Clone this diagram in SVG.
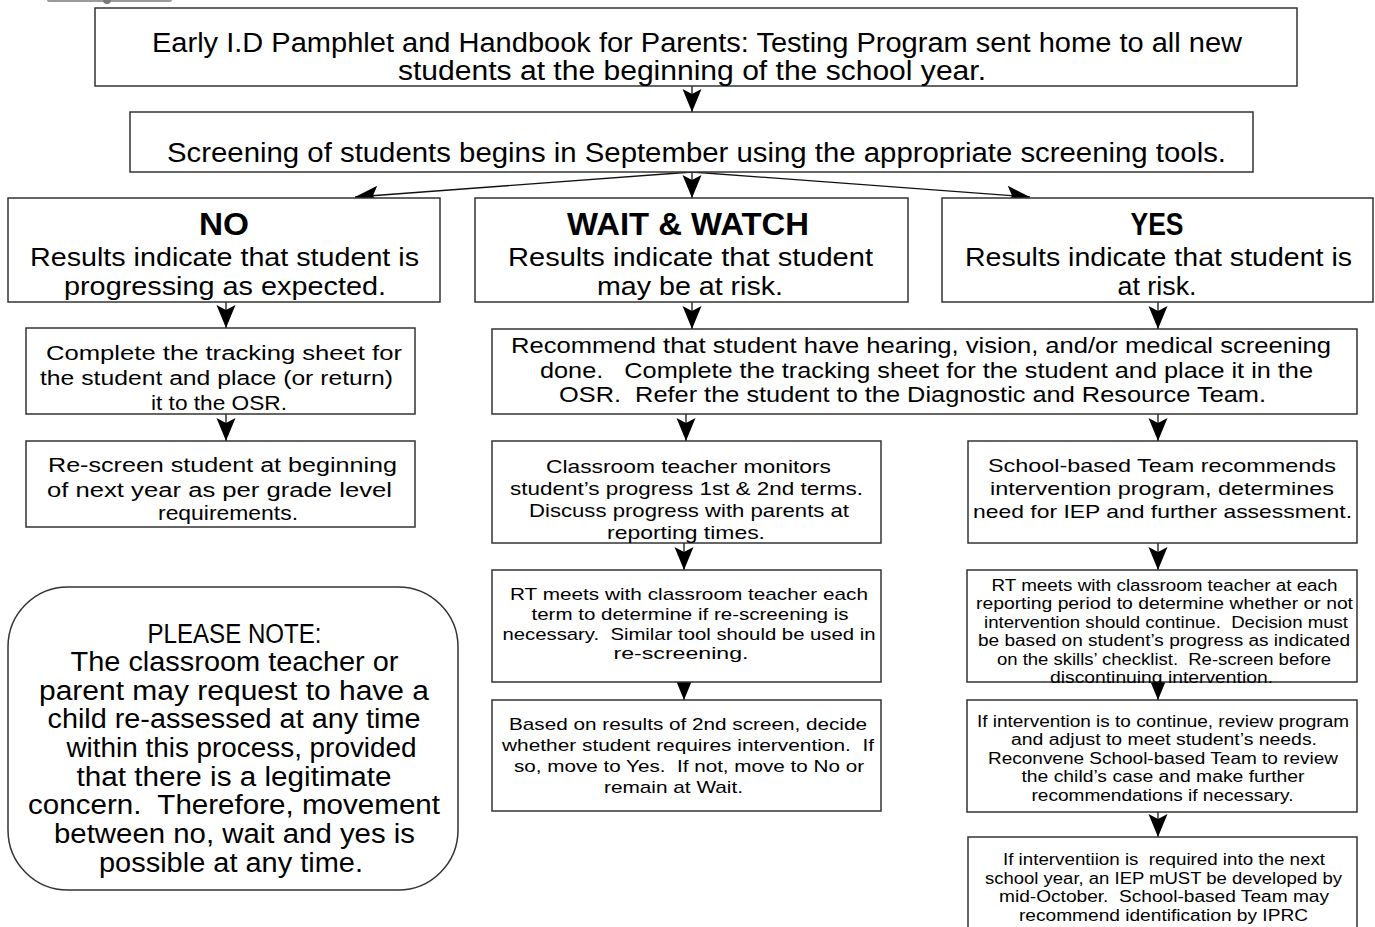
<svg xmlns="http://www.w3.org/2000/svg" width="1375" height="927" viewBox="0 0 1375 927">
<style>
.box{fill:#fff;stroke:#333;stroke-width:1.5}
.t{font-family:"Liberation Sans",Arial,sans-serif;text-anchor:middle;fill:#000;white-space:pre}
.h{font-weight:bold;font-size:32px}
.s27{font-size:27px}.s25{font-size:25px}.s22{font-size:22px}.s20{font-size:20px}.s19{font-size:19px}.s17{font-size:17px}.s16{font-size:16px}
.c{fill:none;stroke:#111;stroke-width:1.3}
</style>
<defs>
<marker id="ah" viewBox="-24 -11 25 22" refX="0" refY="0" markerWidth="25" markerHeight="22" markerUnits="userSpaceOnUse" orient="auto">
<path d="M0,0 L-23,-9.5 L-18,0 L-23,9.5 Z" fill="#000"/>
</marker>
</defs>
<rect width="1375" height="927" fill="#fff"/>
<g id="logo-fragment"><rect x="47" y="-3" width="125" height="5" rx="2" fill="#9a9a9a"/><circle cx="107" cy="0" r="4" fill="#777"/></g>

<g id="connectors">
<path class="c" d="M692,86 L692,112" marker-end="url(#ah)"/>
<path class="c" d="M692,172 L355,197" marker-end="url(#ah)"/>
<path class="c" d="M692,172 L692,198" marker-end="url(#ah)"/>
<path class="c" d="M692,172 L1030,197" marker-end="url(#ah)"/>
<path class="c" d="M226,302 L226,328" marker-end="url(#ah)"/>
<path class="c" d="M226,414 L226,441" marker-end="url(#ah)"/>
<path class="c" d="M692,302 L692,329" marker-end="url(#ah)"/>
<path class="c" d="M1158,302 L1158,329" marker-end="url(#ah)"/>
<path class="c" d="M686,414 L686,441" marker-end="url(#ah)"/>
<path class="c" d="M1158,414 L1158,441" marker-end="url(#ah)"/>
<path class="c" d="M684,543 L684,570" marker-end="url(#ah)"/>
<path class="c" d="M684,682 L684,700" marker-end="url(#ah)"/>
<path class="c" d="M1158,543 L1158,570" marker-end="url(#ah)"/>
<path class="c" d="M1158,682 L1158,700" marker-end="url(#ah)"/>
<path class="c" d="M1158,812 L1158,837" marker-end="url(#ah)"/>
</g>

<g id="title">
<rect class="box" x="95" y="8" width="1202" height="78"/>
<text class="t s27" x="697" y="52" textLength="1090" lengthAdjust="spacingAndGlyphs">Early I.D Pamphlet and Handbook for Parents: Testing Program sent home to all new</text>
<text class="t s27" x="692" y="80" textLength="588" lengthAdjust="spacingAndGlyphs">students at the beginning of the school year.</text>
</g>

<g id="screening">
<rect class="box" x="130" y="112" width="1123" height="60"/>
<text class="t s27" x="696.5" y="162" textLength="1059" lengthAdjust="spacingAndGlyphs">Screening of students begins in September using the appropriate screening tools.</text>
</g>

<g id="no">
<rect class="box" x="8" y="198" width="432" height="104"/>
<text class="t h" x="224" y="235" textLength="50" lengthAdjust="spacingAndGlyphs">NO</text>
<text class="t s25" x="224.5" y="266" textLength="389" lengthAdjust="spacingAndGlyphs">Results indicate that student is</text>
<text class="t s25" x="225" y="295" textLength="322" lengthAdjust="spacingAndGlyphs">progressing as expected.</text>
</g>

<g id="wait">
<rect class="box" x="475" y="198" width="433" height="104"/>
<text class="t h" x="688" y="235" textLength="242" lengthAdjust="spacingAndGlyphs">WAIT &amp; WATCH</text>
<text class="t s25" x="690.5" y="266" textLength="365" lengthAdjust="spacingAndGlyphs">Results indicate that student</text>
<text class="t s25" x="690" y="295" textLength="186" lengthAdjust="spacingAndGlyphs">may be at risk.</text>
</g>

<g id="yes">
<rect class="box" x="942" y="198" width="431" height="104"/>
<text class="t h" x="1157" y="235" textLength="53" lengthAdjust="spacingAndGlyphs">YES</text>
<text class="t s25" x="1158.5" y="266" textLength="387" lengthAdjust="spacingAndGlyphs">Results indicate that student is</text>
<text class="t s25" x="1157" y="295" textLength="79" lengthAdjust="spacingAndGlyphs">at risk.</text>
</g>

<g id="no-tracking">
<rect class="box" x="26" y="328" width="389" height="86"/>
<text class="t s20" x="224" y="360" textLength="356" lengthAdjust="spacingAndGlyphs">Complete the tracking sheet for</text>
<text class="t s20" x="216.5" y="385" textLength="353" lengthAdjust="spacingAndGlyphs">the student and place (or return)</text>
<text class="t s20" x="219" y="410" textLength="136" lengthAdjust="spacingAndGlyphs">it to the OSR.</text>
</g>

<g id="no-rescreen">
<rect class="box" x="26" y="441" width="389" height="86"/>
<text class="t s20" x="222.5" y="472" textLength="349" lengthAdjust="spacingAndGlyphs">Re-screen student at beginning</text>
<text class="t s20" x="219.5" y="497" textLength="345" lengthAdjust="spacingAndGlyphs">of next year as per grade level</text>
<text class="t s20" x="228" y="520" textLength="140" lengthAdjust="spacingAndGlyphs">requirements.</text>
</g>

<g id="recommend">
<rect class="box" x="492" y="329" width="865" height="85"/>
<text class="t s22" x="921" y="353" textLength="820" lengthAdjust="spacingAndGlyphs">Recommend that student have hearing, vision, and/or medical screening</text>
<text class="t s22" x="926.5" y="378" textLength="773" lengthAdjust="spacingAndGlyphs">done.   Complete the tracking sheet for the student and place it in the</text>
<text class="t s22" x="912.5" y="402" textLength="707" lengthAdjust="spacingAndGlyphs">OSR.  Refer the student to the Diagnostic and Resource Team.</text>
</g>

<g id="wait-monitor">
<rect class="box" x="492" y="441" width="389" height="102"/>
<text class="t s19" x="688.5" y="473" textLength="285" lengthAdjust="spacingAndGlyphs">Classroom teacher monitors</text>
<text class="t s19" x="686.5" y="495" textLength="353" lengthAdjust="spacingAndGlyphs">student’s progress 1st &amp; 2nd terms.</text>
<text class="t s19" x="689" y="517" textLength="320" lengthAdjust="spacingAndGlyphs">Discuss progress with parents at</text>
<text class="t s19" x="686" y="539" textLength="158" lengthAdjust="spacingAndGlyphs">reporting times.</text>
</g>

<g id="wait-rt">
<rect class="box" x="492" y="570" width="389" height="112"/>
<text class="t s17" x="689" y="600" textLength="358" lengthAdjust="spacingAndGlyphs">RT meets with classroom teacher each</text>
<text class="t s17" x="690" y="620" textLength="317" lengthAdjust="spacingAndGlyphs">term to determine if re-screening is</text>
<text class="t s17" x="689" y="640" textLength="373" lengthAdjust="spacingAndGlyphs">necessary.  Similar tool should be used in</text>
<text class="t s17" x="681" y="659" textLength="135" lengthAdjust="spacingAndGlyphs">re-screening.</text>
</g>

<g id="wait-based">
<rect class="box" x="492" y="700" width="389" height="111"/>
<text class="t s17" x="688" y="730" textLength="358" lengthAdjust="spacingAndGlyphs">Based on results of 2nd screen, decide</text>
<text class="t s17" x="688" y="751" textLength="372" lengthAdjust="spacingAndGlyphs">whether student requires intervention.  If</text>
<text class="t s17" x="689" y="772" textLength="350" lengthAdjust="spacingAndGlyphs">so, move to Yes.  If not, move to No or</text>
<text class="t s17" x="673.5" y="793" textLength="139" lengthAdjust="spacingAndGlyphs">remain at Wait.</text>
</g>

<g id="yes-team">
<rect class="box" x="968" y="441" width="389" height="102"/>
<text class="t s19" x="1162" y="472" textLength="348" lengthAdjust="spacingAndGlyphs">School-based Team recommends</text>
<text class="t s19" x="1162" y="495" textLength="344" lengthAdjust="spacingAndGlyphs">intervention program, determines</text>
<text class="t s19" x="1162.5" y="518" textLength="379" lengthAdjust="spacingAndGlyphs">need for IEP and further assessment.</text>
</g>

<g id="yes-rt">
<rect class="box" x="967" y="570" width="390" height="112"/>
<text class="t s16" x="1164.5" y="591" textLength="346" lengthAdjust="spacingAndGlyphs">RT meets with classroom teacher at each</text>
<text class="t s16" x="1164.5" y="609" textLength="377" lengthAdjust="spacingAndGlyphs">reporting period to determine whether or not</text>
<text class="t s16" x="1166" y="628" textLength="364" lengthAdjust="spacingAndGlyphs">intervention should continue.  Decision must</text>
<text class="t s16" x="1164" y="646" textLength="372" lengthAdjust="spacingAndGlyphs">be based on student’s progress as indicated</text>
<text class="t s16" x="1164" y="665" textLength="334" lengthAdjust="spacingAndGlyphs">on the skills’ checklist.  Re-screen before</text>
<text class="t s16" x="1161.5" y="683" textLength="223" lengthAdjust="spacingAndGlyphs">discontinuing intervention.</text>
</g>

<g id="yes-continue">
<rect class="box" x="967" y="700" width="390" height="112"/>
<text class="t s16" x="1163" y="727" textLength="372" lengthAdjust="spacingAndGlyphs">If intervention is to continue, review program</text>
<text class="t s16" x="1164" y="745" textLength="306" lengthAdjust="spacingAndGlyphs">and adjust to meet student’s needs.</text>
<text class="t s16" x="1163" y="764" textLength="350" lengthAdjust="spacingAndGlyphs">Reconvene School-based Team to review</text>
<text class="t s16" x="1163" y="782" textLength="283" lengthAdjust="spacingAndGlyphs">the child’s case and make further</text>
<text class="t s16" x="1162.5" y="801" textLength="262" lengthAdjust="spacingAndGlyphs">recommendations if necessary.</text>
</g>

<g id="yes-iep">
<rect class="box" x="968" y="837" width="389" height="110"/>
<text class="t s16" x="1164" y="865" textLength="322" lengthAdjust="spacingAndGlyphs">If interventiion is  required into the next</text>
<text class="t s16" x="1163.5" y="884" textLength="357" lengthAdjust="spacingAndGlyphs">school year, an IEP mUST be developed by</text>
<text class="t s16" x="1164" y="902" textLength="330" lengthAdjust="spacingAndGlyphs">mid-October.  School-based Team may</text>
<text class="t s16" x="1163.5" y="921" textLength="289" lengthAdjust="spacingAndGlyphs">recommend identification by IPRC</text>
</g>

<g id="note">
<rect class="box" x="8" y="587" width="450" height="303" rx="60" ry="60"/>
<text class="t s27" x="234.5" y="643" textLength="174" lengthAdjust="spacingAndGlyphs">PLEASE NOTE:</text>
<text class="t s27" x="234.5" y="671" textLength="328" lengthAdjust="spacingAndGlyphs">The classroom teacher or</text>
<text class="t s27" x="234" y="700" textLength="390" lengthAdjust="spacingAndGlyphs">parent may request to have a</text>
<text class="t s27" x="234" y="728" textLength="373" lengthAdjust="spacingAndGlyphs">child re-assessed at any time</text>
<text class="t s27" x="241.5" y="757" textLength="350" lengthAdjust="spacingAndGlyphs">within this process, provided</text>
<text class="t s27" x="234" y="786" textLength="315" lengthAdjust="spacingAndGlyphs">that there is a legitimate</text>
<text class="t s27" x="234" y="814" textLength="412" lengthAdjust="spacingAndGlyphs">concern.  Therefore, movement</text>
<text class="t s27" x="234.5" y="843" textLength="361" lengthAdjust="spacingAndGlyphs">between no, wait and yes is</text>
<text class="t s27" x="231" y="872" textLength="264" lengthAdjust="spacingAndGlyphs">possible at any time.</text>
</g>
</svg>
